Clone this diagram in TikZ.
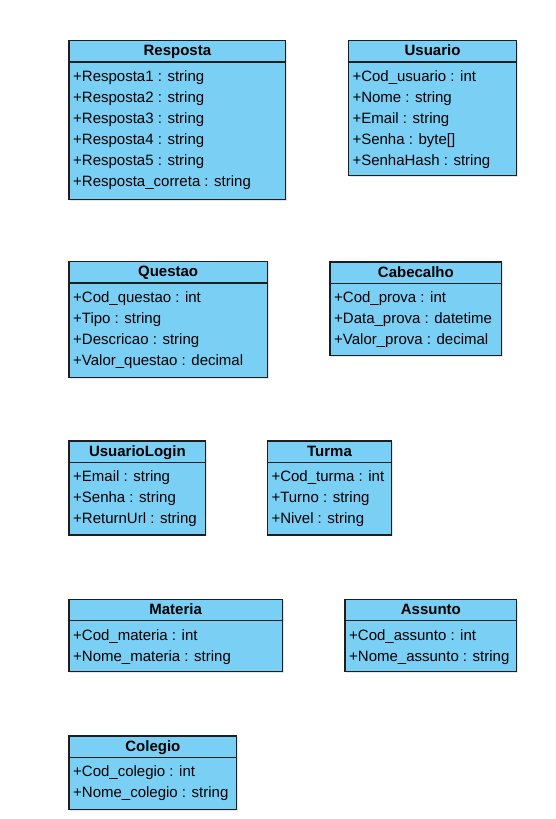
\documentclass[tikz,border=0pt]{standalone}
\usepackage{fontspec}
\setmainfont{Liberation Sans}
\definecolor{umlfill}{HTML}{7ACFF5}
\definecolor{umlline}{HTML}{1E1E1E}
\tikzset{
 hdr/.style={draw=umlline, fill=umlfill, line width=1.2pt, inner sep=0pt, outer sep=0pt,
   font=\fontsize{15}{18}\selectfont\bfseries, text height=12pt, text depth=3pt, minimum height=21.3pt},
 bodyb/.style={draw=umlline, fill=umlfill, line width=1.2pt, inner sep=0pt, outer sep=0pt},
 attr/.style={inner sep=0pt, font=\fontsize{15}{18}\selectfont},
 shadowbox/.style={fill=black!10},
}
\newcommand{\umlclass}[7]{%
 \fill[shadowbox] ({#2+1.3},{#3+1.3}) rectangle ({#4+1.3},{#5+1.3});
 \node[hdr, anchor=north west, minimum width={(#4-#2)*1pt}] (#1) at (#2,#3) {#6};
 \node[bodyb, anchor=north west, minimum width={(#4-#2)*1pt}, minimum height={(#5-#3-21.3)*1pt}] (#1-body) at (#1.south west) {};
 \foreach \r [count=\i] in {#7} \node[attr, anchor=base west] (#1-a\i) at ([xshift=4pt,yshift={-19.5pt-(\i-1)*21pt}]#1.south west) {\r};
}
\begin{document}
\begin{tikzpicture}[x=1pt,y=-1pt]
\fill[white] (0,0) rectangle (556,819);
\useasboundingbox (0,0) rectangle (556,819);
\umlclass{resposta}{69}{40.7}{285.7}{199.3}{Resposta}{{+Resposta1 : string},{+Resposta2 : string},{+Resposta3 : string},{+Resposta4 : string},{+Resposta5 : string},{+Resposta\_correta : string}}
\umlclass{usuario}{348.3}{40.7}{516.7}{175.5}{Usuario}{{+Cod\_usuario : int},{+Nome : string},{+Email : string},{+Senha : byte[]},{+SenhaHash : string}}
\umlclass{questao}{69}{261.7}{267.3}{377.7}{Questao}{{+Cod\_questao : int},{+Tipo : string},{+Descricao : string},{+Valor\_questao : decimal}}
\umlclass{cabecalho}{330}{262}{501.7}{355.5}{Cabecalho}{{+Cod\_prova : int},{+Data\_prova : datetime},{+Valor\_prova : decimal}}
\umlclass{usuariologin}{69}{441}{205.7}{535}{UsuarioLogin}{{+Email : string},{+Senha : string},{+ReturnUrl : string}}
\umlclass{turma}{267.3}{441}{391.7}{535}{Turma}{{+Cod\_turma : int},{+Turno : string},{+Nivel : string}}
\umlclass{materia}{69}{599.3}{282.3}{671.7}{Materia}{{+Cod\_materia : int},{+Nome\_materia : string}}
\umlclass{assunto}{345}{599.3}{516.7}{671.7}{Assunto}{{+Cod\_assunto : int},{+Nome\_assunto : string}}
\umlclass{colegio}{69}{736}{236.7}{809.3}{Colegio}{{+Cod\_colegio : int},{+Nome\_colegio : string}}
\end{tikzpicture}
\end{document}
